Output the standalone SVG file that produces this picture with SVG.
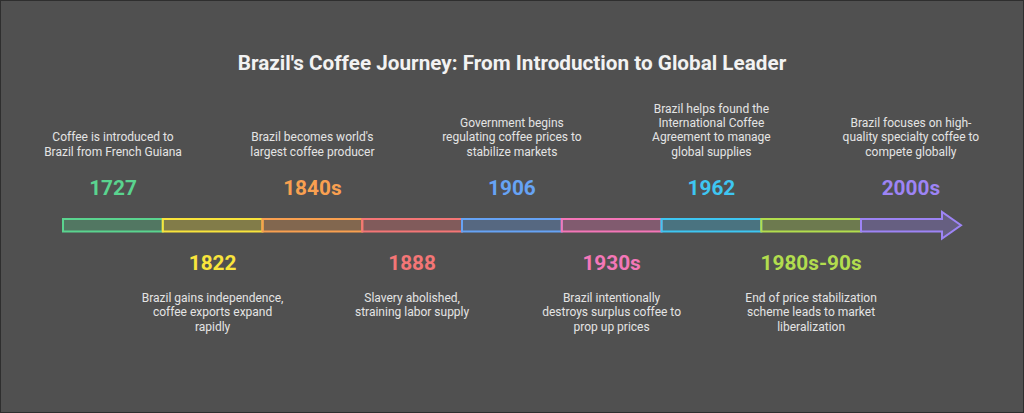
<svg xmlns="http://www.w3.org/2000/svg" width="1024" height="413" viewBox="0 0 1024 413">
<style>
.title{font-family:Roboto,"Liberation Sans",sans-serif;font-weight:700;font-size:20.7px;fill:#f2f2f2;text-anchor:middle}
.year{font-family:Roboto,"Liberation Sans",sans-serif;font-weight:700;font-size:20.8px;text-anchor:middle}
.desc{font-family:Roboto,"Liberation Sans",sans-serif;font-size:12px;fill:#e4e4e4;text-anchor:middle}
.seg{stroke-width:2;fill-opacity:0.3}
</style>
<rect x="0.5" y="0.5" width="1023" height="412" fill="#505050" stroke="#2e2e2e" stroke-width="1"/>
<text class="title" x="512" y="69.5">Brazil's Coffee Journey: From Introduction to Global Leader</text>
<g id="connectors">
<rect class="seg" x="63" y="219" width="99.75" height="12.5" fill="#5ad48f" stroke="#5ad48f"/>
<rect class="seg" x="162.75" y="219" width="99.75" height="12.5" fill="#f9e43c" stroke="#f9e43c"/>
<rect class="seg" x="262.5" y="219" width="99.75" height="12.5" fill="#f9a050" stroke="#f9a050"/>
<rect class="seg" x="362.25" y="219" width="99.75" height="12.5" fill="#f47676" stroke="#f47676"/>
<rect class="seg" x="462" y="219" width="99.75" height="12.5" fill="#66a3f5" stroke="#66a3f5"/>
<rect class="seg" x="561.75" y="219" width="99.75" height="12.5" fill="#f477b8" stroke="#f477b8"/>
<rect class="seg" x="661.5" y="219" width="99.75" height="12.5" fill="#3ec6f2" stroke="#3ec6f2"/>
<rect class="seg" x="761.25" y="219" width="99.75" height="12.5" fill="#b2dd4e" stroke="#b2dd4e"/>
<path class="seg" d="M861,219 H942 V212 L961,225.25 L942,238.5 V231.5 H861 Z" fill="#9d84f5" stroke="#9d84f5" stroke-linejoin="miter"/>
</g>
<g id="n1727">
<text class="desc" x="113" y="141.3">Coffee is introduced to</text>
<text class="desc" x="113" y="155.7">Brazil from French Guiana</text>
<text class="year" x="113" y="195" fill="#5ad48f">1727</text>
</g>
<g id="n1822">
<text class="year" x="212.6" y="270" fill="#f9e43c">1822</text>
<text class="desc" x="212.6" y="301.7">Brazil gains independence,</text>
<text class="desc" x="212.6" y="316.1">coffee exports expand</text>
<text class="desc" x="212.6" y="330.5">rapidly</text>
</g>
<g id="n1840s">
<text class="desc" x="312.4" y="141.3">Brazil becomes world's</text>
<text class="desc" x="312.4" y="155.7">largest coffee producer</text>
<text class="year" x="312.4" y="195" fill="#f9a050">1840s</text>
</g>
<g id="n1888">
<text class="year" x="412.1" y="270" fill="#f47676">1888</text>
<text class="desc" x="412.1" y="301.7">Slavery abolished,</text>
<text class="desc" x="412.1" y="316.1">straining labor supply</text>
</g>
<g id="n1906">
<text class="desc" x="511.9" y="126.9">Government begins</text>
<text class="desc" x="511.9" y="141.3">regulating coffee prices to</text>
<text class="desc" x="511.9" y="155.7">stabilize markets</text>
<text class="year" x="511.9" y="195" fill="#66a3f5">1906</text>
</g>
<g id="n1930s">
<text class="year" x="611.6" y="270" fill="#f477b8">1930s</text>
<text class="desc" x="611.6" y="301.7">Brazil intentionally</text>
<text class="desc" x="611.6" y="316.1">destroys surplus coffee to</text>
<text class="desc" x="611.6" y="330.5">prop up prices</text>
</g>
<g id="n1962">
<text class="desc" x="711.4" y="112.5">Brazil helps found the</text>
<text class="desc" x="711.4" y="126.9">International Coffee</text>
<text class="desc" x="711.4" y="141.3">Agreement to manage</text>
<text class="desc" x="711.4" y="155.7">global supplies</text>
<text class="year" x="711.4" y="195" fill="#3ec6f2">1962</text>
</g>
<g id="n1980s">
<text class="year" x="811.1" y="270" fill="#b2dd4e">1980s-90s</text>
<text class="desc" x="811.1" y="301.7">End of price stabilization</text>
<text class="desc" x="811.1" y="316.1">scheme leads to market</text>
<text class="desc" x="811.1" y="330.5">liberalization</text>
</g>
<g id="n2000s">
<text class="desc" x="910.9" y="126.9">Brazil focuses on high-</text>
<text class="desc" x="910.9" y="141.3">quality specialty coffee to</text>
<text class="desc" x="910.9" y="155.7">compete globally</text>
<text class="year" x="910.9" y="195" fill="#9d84f5">2000s</text>
</g>
</svg>
